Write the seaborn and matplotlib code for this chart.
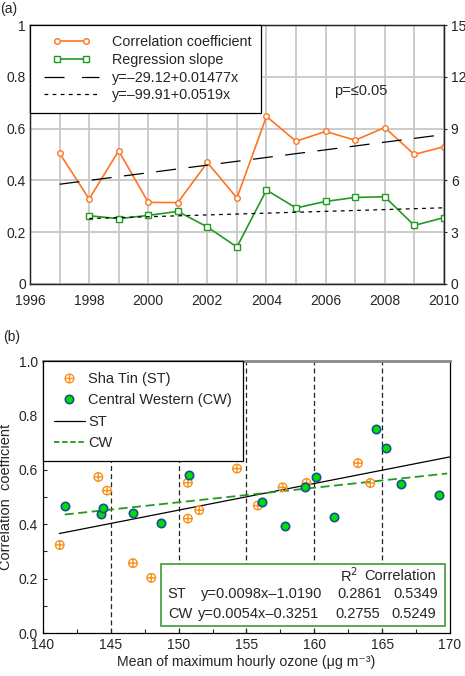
import numpy as np
import pandas as pd
import matplotlib
matplotlib.use("Agg")
import matplotlib.pyplot as plt
import seaborn as sns
from matplotlib.path import Path
from matplotlib.lines import Line2D
from matplotlib.patches import Rectangle
from matplotlib.legend_handler import HandlerLine2D

# ---- data, panel (a) ----
years = [1997, 1998, 1999, 2000, 2001, 2002, 2003, 2004, 2005, 2006, 2007, 2008, 2009, 2010]
corr_coef = [0.505, 0.328, 0.514, 0.315, 0.314, 0.469, 0.332, 0.647, 0.551, 0.589, 0.555, 0.604, 0.500, 0.530]
slope_years = [1998, 1999, 2000, 2001, 2002, 2003, 2004, 2005, 2006, 2007, 2008, 2009, 2010]
reg_slope = [3.95, 3.78, 3.97, 4.20, 3.30, 2.14, 5.44, 4.40, 4.78, 5.01, 5.05, 3.39, 3.84]
corr_trend_x = [1997, 2010]
corr_trend_y = [0.385, 0.577]
slope_trend_x = [1998, 2010]
slope_trend_y = [3.79, 4.41]

# ---- data, panel (b) ----
st_x = [141.23, 144.08, 144.72, 146.63, 147.98, 150.68, 150.68, 151.52, 154.30, 155.84, 157.67, 159.43, 163.22, 164.13]
st_y = [0.324, 0.574, 0.524, 0.257, 0.203, 0.553, 0.421, 0.452, 0.605, 0.469, 0.536, 0.552, 0.625, 0.552]
cw_x = [141.60, 144.28, 144.42, 146.61, 148.70, 150.76, 156.12, 157.84, 159.29, 160.15, 161.45, 164.55, 165.31, 166.36, 169.19]
cw_y = [0.466, 0.439, 0.459, 0.442, 0.406, 0.583, 0.481, 0.392, 0.536, 0.575, 0.426, 0.749, 0.682, 0.547, 0.507]
st_fit_x = [141.2, 170.0]
st_fit_y = [0.366, 0.648]
cw_fit_x = [141.6, 169.8]
cw_fit_y = [0.436, 0.587]
vlines_x = [145, 150, 155, 160, 165]

sns.set_style("white")
plt.rcParams['font.family'] = ['Liberation Sans', 'DejaVu Sans']
plt.rcParams['axes.linewidth'] = 0.9

orange = '#ff7420'
green = '#229a22'
st_col = '#f7931e'
cw_fill = '#00e000'
cw_edge = '#1b4f95'

fig = plt.figure(figsize=(4.65, 6.76), dpi=100)

# ================= panel (a) =================
ax = fig.add_axes([0.0645, 0.580, 0.890, 0.383])
ax.set_xlim(1996, 2010)
ax.set_ylim(0, 1)
ax.set_xticks(range(1996, 2011, 2))
ax.set_xticks(range(1996, 2011), minor=True)
ax.set_yticks([0, 0.2, 0.4, 0.6, 0.8, 1.0])
ax.set_yticklabels(['0', '0.2', '0.4', '0.6', '0.8', '1'])
ax.grid(True, which='both', color='#c8c8c8', lw=1.3)
ax.tick_params(which='both', length=0, labelsize=10, pad=3)
ax.tick_params(axis='x', pad=7)
for s in ax.spines.values():
    s.set_color('black')

sns.lineplot(x=years, y=corr_coef, ax=ax, color=orange, lw=1.2,
             marker='o', markersize=4, markerfacecolor='white',
             markeredgecolor=orange, markeredgewidth=1)
sns.lineplot(x=corr_trend_x, y=corr_trend_y, ax=ax, color='black', lw=0.9,
             linestyle=(0, (16, 10)))

ax2 = ax.twinx()
ax2.set_ylim(0, 15)
ax2.set_yticks([0, 3, 6, 9, 12, 15])
ax2.tick_params(length=2, labelsize=10, pad=3)
sns.lineplot(x=slope_years, y=reg_slope, ax=ax2, color=green, lw=1.2,
             marker='s', markersize=4, markerfacecolor='white',
             markeredgecolor=green, markeredgewidth=1)
sns.lineplot(x=slope_trend_x, y=slope_trend_y, ax=ax2, color='black', lw=0.9,
             linestyle=(0, (3, 3.5)))
ax2.set_xlim(1996, 2010)
ax.set_xlabel('')
ax.set_ylabel('')
ax2.set_ylabel('')

h_a = [
    Line2D([], [], color=orange, lw=1.2, marker='o', markersize=4,
           markerfacecolor='white', markeredgecolor=orange),
    Line2D([], [], color=green, lw=1.2, marker='s', markersize=4,
           markerfacecolor='white', markeredgecolor=green),
    Line2D([], [], color='black', lw=0.9, linestyle=(0, (16, 14))),
    Line2D([], [], color='black', lw=0.9, linestyle=(0, (3, 3.5))),
]
lab_a = ['Correlation coefficient', 'Regression slope',
         'y=\u201329.12+0.01477x', 'y=\u201399.91+0.0519x']
leg_a = ax2.legend(h_a, lab_a, loc='upper left', bbox_to_anchor=(0, 1),
                   borderaxespad=0, fontsize=10.4, frameon=True, fancybox=False,
                   edgecolor='black', framealpha=1, handlelength=4.4,
                   handletextpad=0.55, labelspacing=0.26,
                   borderpad=0.7, numpoints=2,
                   handler_map={h_a[0]: HandlerLine2D(marker_pad=1.2, numpoints=2),
                                h_a[1]: HandlerLine2D(marker_pad=1.2, numpoints=2)})
leg_a.get_frame().set_linewidth(0.9)
ax2.text(2006.3, 11.2, 'p=\u22640.05', fontsize=10.5, va='center', ha='left')

fig.text(0.0, 0.997, '(a)', fontsize=10, va='top', ha='left')

# ================= panel (b) =================
bx = fig.add_axes([0.0925, 0.0636, 0.875, 0.402])
bx.set_xlim(140, 170)
bx.set_ylim(0, 1)
bx.set_xticks([140, 145, 150, 155, 160, 165, 170])
bx.set_xticks(np.arange(142.5, 170, 5), minor=True)
bx.set_yticks(np.arange(0, 1.01, 0.2))
bx.set_yticklabels(['0.0', '0.2', '0.4', '0.6', '0.8', '1.0'])
bx.set_yticks(np.arange(0.1, 1.0, 0.2), minor=True)
bx.tick_params(which='both', direction='in', length=3, width=0.8,
               labelsize=10, bottom=True, left=True)
for s in bx.spines.values():
    s.set_color('black')
bx.spines['top'].set_color('#888888')
bx.spines['top'].set_linewidth(2)

for xv in vlines_x:
    bx.axvline(xv, color='#222222', lw=0.9, linestyle=(0, (4, 2.5)), zorder=1)

sns.lineplot(x=st_fit_x, y=st_fit_y, ax=bx, color='black', lw=0.9, zorder=2)
sns.lineplot(x=cw_fit_x, y=cw_fit_y, ax=bx, color=green, lw=1.3,
             linestyle=(0, (5, 2.5)), zorder=2)

oplus = Path.make_compound_path(
    Path.unit_circle(),
    Path([[-1, 0], [1, 0]], [Path.MOVETO, Path.LINETO]),
    Path([[0, -1], [0, 1]], [Path.MOVETO, Path.LINETO]))

sns.scatterplot(x=st_x, y=st_y, ax=bx, marker=oplus, s=38,
                facecolors='none', edgecolor=st_col, linewidth=1, zorder=3)
sns.scatterplot(x=cw_x, y=cw_y, ax=bx, marker='o', s=36,
                color=cw_fill, edgecolor=cw_edge, linewidth=1.2, zorder=3)

bx.set_xlabel('Mean of maximum hourly ozone (\u03bcg m\u207b\u00b3)', fontsize=10.2, labelpad=2)
bx.set_ylabel('Correlation  coefficient', fontsize=10.5, labelpad=4)

h_b = [
    Line2D([], [], ls='none', marker=oplus, markersize=6.3, markerfacecolor='none',
           markeredgecolor=st_col, markeredgewidth=1),
    Line2D([], [], ls='none', marker='o', markersize=6, markerfacecolor=cw_fill,
           markeredgecolor=cw_edge, markeredgewidth=1.2),
    Line2D([], [], color='black', lw=0.9),
    Line2D([], [], color=green, lw=1.3, linestyle=(0, (3, 1.5))),
]
lab_b = ['Sha Tin (ST)', 'Central Western (CW)', 'ST', 'CW']
leg_b = bx.legend(h_b, lab_b, loc='upper left', bbox_to_anchor=(0, 1),
                  borderaxespad=0, fontsize=10.5, frameon=True, fancybox=False,
                  edgecolor='black', framealpha=1, handlelength=2.1,
                  handletextpad=0.25, labelspacing=0.5, borderpad=0.75)
leg_b.get_frame().set_linewidth(0.9)
leg_b.set_zorder(5)

box = Rectangle((148.70, 0.026), 169.63 - 148.70, 0.254 - 0.026,
                facecolor='white', edgecolor='#3c9c3c', lw=1.2, zorder=5)
bx.add_patch(box)
tk = dict(fontsize=10.5, va='center', ha='left', zorder=6)
bx.text(161.9, 0.210, 'R$^2$', **tk)
bx.text(163.66, 0.210, 'Correlation', **tk)
bx.text(149.2, 0.143, 'ST', **tk)
bx.text(151.65, 0.143, 'y=0.0098x\u20131.0190', **tk)
bx.text(161.74, 0.143, '0.2861', **tk)
bx.text(165.87, 0.143, '0.5349', **tk)
bx.text(149.2, 0.070, 'CW', **tk)
bx.text(151.42, 0.070, 'y=0.0054x\u20130.3251', **tk)
bx.text(161.52, 0.070, '0.2755', **tk)
bx.text(165.72, 0.070, '0.5249', **tk)

fig.text(0.006, 0.5015, '(b)', fontsize=10, va='center', ha='left')

fig.savefig('out.png', dpi=100)
